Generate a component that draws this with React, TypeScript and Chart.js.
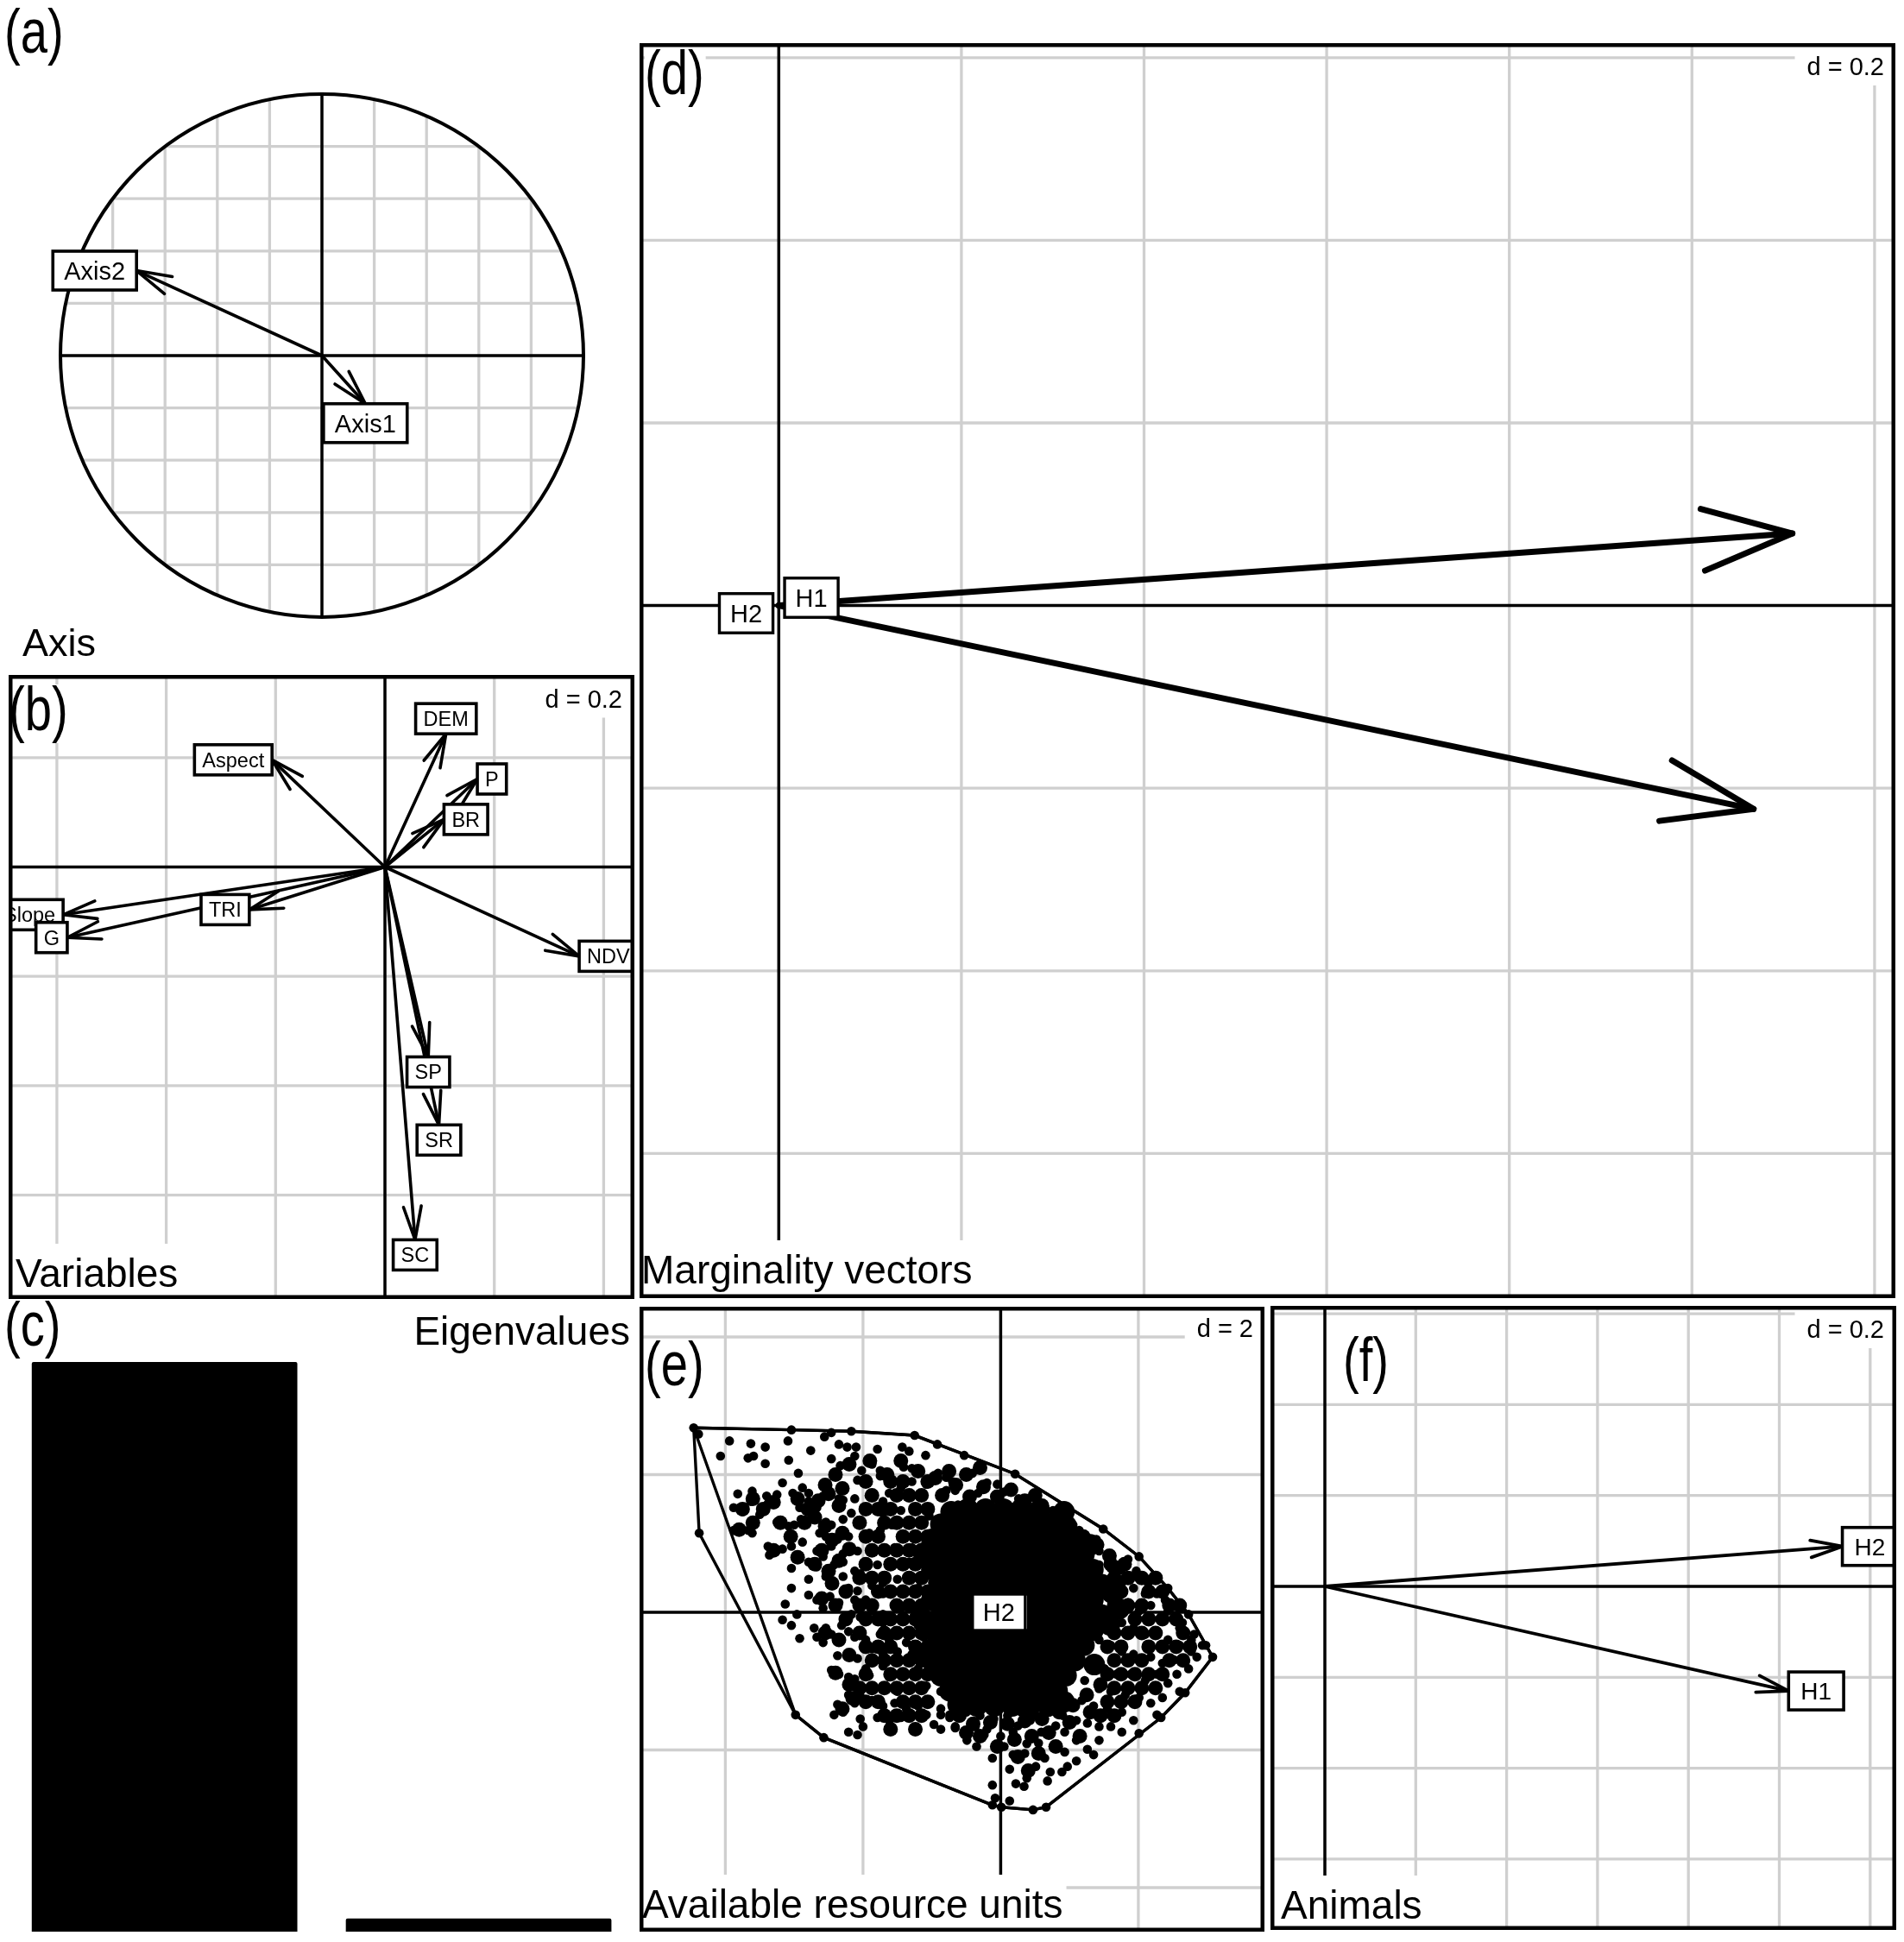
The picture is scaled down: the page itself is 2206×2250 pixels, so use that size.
import React, { useEffect, useRef } from "react";
import { Chart, registerables } from "chart.js";

Chart.register(...registerables);

const FONT = '"Liberation Sans", Arial, Helvetica, sans-serif';
const GRID_COLOR = "#cfcfcf";

/* ======================= DATA ======================= */
// (a) projection of the analysis axes
const axisNames = ["Axis1", "Axis2"];
const axisX = [0.166, -0.709];
const axisY = [-0.184, 0.325];

// (b) variables
const varNames = ["DEM", "P", "BR", "Aspect", "NDVI", "SP", "SR", "SC", "TRI", "Slope", "G"];
const varX = [0.1116, 0.169, 0.108, -0.2065, 0.3553, 0.0793, 0.0987, 0.0551, -0.2481, -0.5886, -0.581];
const varY = [0.2436, 0.161, 0.087, 0.196, -0.1632, -0.3473, -0.4717, -0.6818, -0.078, -0.0873, -0.129];

// (c) eigenvalues
const eigenNames = ["1", "2"];
const eigenValues = [1.0, 0.023];

// (d) marginality vectors
const margNames = ["H1", "H2"];
const margX = [1.0675, 1.11];
const margY = [-0.2228, 0.079];
const margLabelX = [0.0357, -0.0357];
const margLabelY = [0.0086, -0.0084];

// (e) available resource units (isolated units)
const availPoints: number[][] = [
  [-4.46, 2.68], [-4.39, 2.59], [-3.04, 2.65], [-2.17, 2.63], [-2.56, 2.55], [-2.46, 2.61], [-1.25, 2.57], [-0.92, 2.44],
  [-3.94, 2.49], [-3.63, 2.45], [-3.42, 2.40], [-3.09, 2.49], [-4.07, 2.27], [-3.67, 2.24], [-3.59, 2.27], [-3.42, 2.16],
  [-3.08, 2.21], [-2.76, 2.35], [-2.35, 2.44], [-2.23, 2.40], [-2.10, 2.40], [-1.79, 2.37], [-1.43, 2.40], [-1.33, 2.34], [-1.09, 2.28],
  [-2.46, 2.23], [-2.33, 2.13], [-2.12, 2.27], [-2.08, 1.92], [-1.75, 2.06], [-1.75, 1.98], [-1.41, 2.11], [-1.29, 2.09],
  [-2.94, 2.02], [-3.17, 1.88], [-0.91, 2.02], [-0.79, 1.96], [-2.02, 2.06], [-1.87, 2.15],
  [-3.82, 1.72], [-3.61, 1.76], [-3.40, 1.69], [-3.25, 1.71], [-3.02, 1.73], [-2.88, 1.81], [-2.79, 1.73], [-2.58, 1.69],
  [-2.35, 1.65], [-2.29, 1.63], [-3.88, 1.52], [-3.75, 1.46], [-3.50, 1.42], [-3.63, 1.61], [-3.38, 1.58], [-2.92, 1.52],
  [-2.79, 1.61], [-2.67, 1.52], [-2.12, 1.65], [-1.91, 1.69], [-1.96, 1.52], [-1.71, 1.61], [-1.62, 1.73], [-1.45, 1.81],
  [-1.29, 1.90], [-1.08, 1.86], [-0.79, 1.77], [-0.70, 1.90],
  [-3.25, 1.31], [-3.08, 1.25], [-3.00, 1.27], [-2.90, 1.35], [-2.71, 1.40], [-2.54, 1.31], [-2.46, 1.27], [-2.29, 1.35],
  [-2.17, 1.44], [-2.04, 1.31], [-1.71, 1.44], [-1.45, 1.48], [-3.88, 1.19], [-3.67, 1.19], [-3.61, 1.15], [-2.88, 1.02],
  [-2.63, 1.15], [-2.54, 1.10], [-2.37, 1.06], [-2.21, 1.10], [-1.91, 1.15], [-1.75, 1.19], [-1.58, 1.27], [-1.29, 1.31],
  [-1.04, 1.40], [-0.79, 1.48],
  [-3.38, 0.96], [-3.36, 0.83], [-3.17, 0.92], [-3.04, 0.96], [-2.67, 0.89], [-2.58, 0.81], [-2.46, 0.96], [-2.29, 0.85],
  [-2.08, 0.89], [-1.87, 0.94], [-1.71, 0.89], [-1.54, 0.94], [-1.29, 0.94], [-3.04, 0.64], [-2.79, 0.73], [-2.67, 0.66],
  [-2.42, 0.69], [-2.29, 0.73], [-2.12, 0.60], [-1.79, 0.69], [-1.62, 0.69], [-1.33, 0.73], [-1.08, 0.81], [-0.87, 0.89], [-0.70, 0.94],
  [-2.79, 0.48], [-3.04, 0.35], [-2.54, 0.52], [-2.46, 0.43], [-2.29, 0.52], [-2.04, 0.56], [-2.21, 0.35], [-2.08, 0.31],
  [-1.87, 0.39], [-1.71, 0.43], [-1.50, 0.48], [-1.29, 0.52], [-2.79, 0.25], [-2.67, 0.18], [-2.48, 0.23], [-2.35, 0.14],
  [-2.12, 0.18], [-1.96, 0.18], [-1.71, 0.27], [-1.45, 0.31], [-1.20, 0.35], [-0.99, 0.43], [-0.79, 0.48], [-3.13, 0.12], [-2.58, 0.06],
  [-2.17, -0.03], [-2.04, -0.07], [-1.87, 0.02], [-1.71, -0.03], [-1.45, 0.06], [-1.25, 0.02], [-1.04, 0.10], [-3.17, -0.11],
  [-2.96, -0.03], [-3.04, -0.19], [-2.71, -0.23], [-2.54, -0.23], [-2.31, -0.19], [-2.21, -0.28], [-1.71, -0.15], [-1.45, -0.11],
  [-1.20, -0.19], [-0.95, -0.15], [-0.70, -0.07],
  [-2.92, -0.38], [-2.67, -0.36], [-2.58, -0.44], [-2.46, -0.32], [-2.12, -0.36], [-1.96, -0.40], [-1.75, -0.32], [-1.62, -0.40],
  [-1.37, -0.44], [-1.12, -0.36], [-0.87, -0.32], [-2.37, -0.63], [-2.08, -0.67], [-1.87, -0.53], [-1.71, -0.61], [-1.50, -0.57],
  [-1.29, -0.61], [-0.99, -0.57], [-0.74, -0.48],
  [-2.46, -0.84], [-2.35, -0.90], [-2.21, -0.94], [-2.12, -0.97], [-1.96, -0.82], [-1.91, -0.92], [-1.71, -0.78], [-1.62, -0.94],
  [-1.41, -0.90], [-1.20, -0.82], [-0.95, -0.78], [-0.79, -0.90], [-1.87, -1.11], [-1.71, -1.07], [-1.50, -1.15], [-1.29, -1.11],
  [-1.08, -1.07], [-0.87, -1.15], [-0.70, -1.03],
  [-2.21, -1.20], [-2.04, -1.22], [-2.12, -1.32], [-1.87, -1.28], [-1.71, -1.36], [-1.54, -1.32], [-1.37, -1.40], [-1.20, -1.36],
  [-1.04, -1.32], [-0.87, -1.40], [-2.37, -1.34], [-2.42, -1.49], [-2.29, -1.45], [-2.04, -1.55], [-1.79, -1.53], [-1.62, -1.57],
  [-1.45, -1.53], [-1.29, -1.51], [-1.08, -1.49], [-0.87, -1.49], [-0.74, -1.53],
  [-2.21, -1.74], [-2.08, -1.78], [-2.00, -1.66], [-0.97, -1.63], [-0.87, -1.70], [-0.66, -1.66], [-2.98, -1.49], [-2.57, -1.82],
  [-0.53, 2.28], [0.21, 2.01], [1.49, 1.21], [2.01, 0.81], [2.43, 0.35], [2.73, -0.03], [2.98, -0.48], [3.08, -0.65],
  [2.68, -1.17], [2.33, -1.53], [2.01, -1.76], [0.47, -2.87], [0.01, -2.83], [-0.12, -2.80], [0.66, -2.83],
  [-0.41, 2.02], [-0.20, 1.88], [-0.33, 1.73], [-0.05, 1.86], [0.05, 1.75], [0.26, 1.65], [-0.66, 1.77], [-0.62, 1.56],
  [0.51, 1.48], [0.64, 1.40], [1.05, 1.27], [1.14, 1.19], [1.39, 1.06], [1.60, 0.64], [1.85, 0.77], [1.97, 0.60], [2.14, 0.43],
  [2.27, 0.27], [2.39, 0.18], [2.52, -0.07], [2.64, -0.15], [2.81, -0.32], [2.93, -0.48], [2.85, -0.65], [2.73, -0.82],
  [2.56, -0.90], [2.43, -1.03], [2.60, -1.15], [2.35, -1.24], [2.18, -1.32], [2.27, -1.49], [1.93, -1.57], [1.76, -1.74],
  [1.60, -1.66], [1.43, -1.86], [1.26, -1.99], [1.35, -2.07], [1.10, -2.16], [0.97, -2.24], [0.89, -2.32], [0.72, -2.32],
  [0.68, -2.45], [0.38, -2.41], [0.34, -2.53], [0.22, -2.49], [0.13, -2.28], [0.18, -2.07], [0.38, -1.91], [0.18, -1.74],
  [-0.12, -2.12], [-0.12, -2.51], [-0.08, -2.70], [0.13, -2.74], [-0.49, -1.86], [-0.24, -1.78], [-0.37, -1.66], [-0.66, -1.68], [-0.74, -1.49],
  [1.35, 0.52], [1.51, 0.35], [1.68, 0.27], [1.85, 0.14], [2.01, 0.02], [2.18, -0.07], [2.35, -0.07], [1.60, -0.07],
  [1.76, -0.15], [1.93, -0.23], [2.10, -0.32], [2.27, -0.32], [2.43, -0.40], [2.60, -0.48], [1.43, -0.40], [1.60, -0.48],
  [1.76, -0.57], [1.93, -0.61], [2.18, -0.65], [2.35, -0.74], [2.52, -0.69], [1.35, -0.74], [1.51, -0.82], [1.68, -0.90],
  [1.89, -0.90], [2.10, -0.99], [2.27, -0.90], [1.22, -0.99], [1.43, -1.11], [1.60, -1.15], [1.81, -1.20], [2.01, -1.24],
  [1.18, -1.28], [1.35, -1.36], [1.55, -1.40], [1.76, -1.45], [1.10, -1.57], [1.26, -1.61], [1.43, -1.66], [0.93, -1.74],
  [1.10, -1.86], [0.76, -1.95], [0.93, -2.03], [0.64, -2.12], [0.51, -2.24], [0.59, -1.74], [0.43, -1.57],
  [0.76, 1.48], [0.93, 1.35], [0.84, 1.15], [1.05, 1.06], [1.22, 0.98], [1.43, 0.89], [1.60, 0.85], [1.76, 0.69],
  [1.26, 0.77], [1.43, 0.69], [1.18, 0.52], [1.76, 0.43], [1.93, 0.35], [2.10, 0.27], [2.18, 0.10], [2.43, 0.02],
  [2.60, -0.23], [2.77, -0.40], [2.77, -0.57],
  [-0.50, -1.45], [-0.30, -1.50], [-0.10, -1.55], [0.10, -1.50], [0.30, -1.45], [0.50, -1.50], [0.70, -1.45], [0.90, -1.50],
  [-0.20, -1.70], [0.00, -1.80], [0.25, -1.65], [0.55, -1.90], [0.80, -1.65], [0.35, -2.05], [0.05, -1.95], [-0.35, -1.95],
];
// clumps of touching units
const availClumps: number[][] = [
  // dense band left of the core
  [-1.06, 1.90], [-1.42, 1.90], [-1.60, 1.90], [-1.96, 1.90],
  [-1.15, 1.70], [-1.33, 1.70], [-1.51, 1.70], [-1.87, 1.70],
  [-1.06, 1.50], [-1.24, 1.50], [-1.60, 1.50], [-1.78, 1.50], [-1.96, 1.50],
  [-1.15, 1.30], [-1.33, 1.30], [-1.51, 1.30], [-1.69, 1.30], [-2.05, 1.30],
  [-1.06, 1.10], [-1.24, 1.10], [-1.42, 1.10], [-1.78, 1.10], [-1.96, 1.10],
  [-1.15, 0.90], [-1.33, 0.90], [-1.51, 0.90], [-1.69, 0.90], [-1.87, 0.90],
  [-1.06, 0.70], [-1.24, 0.70], [-1.42, 0.70], [-1.60, 0.70], [-1.96, 0.70],
  [-1.15, 0.50], [-1.33, 0.50], [-1.69, 0.50], [-1.87, 0.50], [-2.05, 0.50],
  [-1.06, 0.30], [-1.24, 0.30], [-1.42, 0.30], [-1.60, 0.30], [-1.78, 0.30],
  [-1.15, 0.10], [-1.33, 0.10], [-1.51, 0.10], [-1.87, 0.10], [-2.05, 0.10],
  [-1.06, -0.10], [-1.24, -0.10], [-1.42, -0.10], [-1.60, -0.10], [-1.78, -0.10], [-1.96, -0.10],
  [-1.15, -0.30], [-1.33, -0.30], [-1.51, -0.30], [-1.69, -0.30], [-2.05, -0.30],
  [-1.06, -0.50], [-1.24, -0.50], [-1.60, -0.50], [-1.78, -0.50], [-1.96, -0.50],
  [-1.15, -0.70], [-1.33, -0.70], [-1.51, -0.70], [-1.69, -0.70], [-1.87, -0.70],
  [-1.06, -0.90], [-1.24, -0.90], [-1.42, -0.90], [-1.60, -0.90], [-1.96, -0.90],
  [-1.15, -1.10], [-1.33, -1.10], [-1.51, -1.10], [-1.69, -1.10], [-1.87, -1.10], [-2.05, -1.10],
  [-1.06, -1.30], [-1.24, -1.30], [-1.42, -1.30], [-1.78, -1.30], [-1.96, -1.30],
  [-1.15, -1.50], [-1.33, -1.50], [-1.51, -1.50], [-1.69, -1.50],
  [-1.24, -1.70], [-1.60, -1.70],
  // upper band
  [-0.85, 1.70], [-0.65, 1.85], [-0.45, 1.68], [-0.25, 1.82], [-0.05, 1.68], [0.15, 1.78], [0.35, 1.62], [-0.95, 1.95],
  [-0.75, 2.05], [-0.50, 2.00], [-0.30, 2.10], [-1.20, 2.05], [-1.45, 2.20], [-1.65, 2.00], [-1.90, 2.20], [-2.20, 2.15],
  [-2.40, 2.00], [-2.30, 1.80], [-2.55, 1.85], [0.60, 1.55], [0.80, 1.40], [1.00, 1.25], [1.20, 1.10], [1.40, 0.98],
  [1.58, 0.82], [1.72, 0.65], [0.50, 1.70],
  // upper-left clusters
  [-3.75, 1.50], [-3.60, 1.65], [-3.45, 1.50], [-3.30, 1.60], [-2.95, 1.65], [-2.80, 1.50], [-2.65, 1.62], [-2.50, 1.72],
  [-2.35, 1.55], [-2.85, 1.30], [-2.70, 1.38], [-2.55, 1.25], [-2.30, 1.15], [-2.45, 1.05], [-2.60, 0.90], [-2.35, 0.75],
  [-2.20, 0.92], [-2.70, 0.70], [-2.50, 0.60], [-2.45, 0.42], [-2.25, 0.30], [-2.60, 0.20], [-2.40, 0.10], [-2.25, -0.10],
  [-2.55, -0.30], [-2.35, -0.40], [-2.20, -0.62], [-2.40, -0.88], [-2.20, -1.05], [-2.30, -1.40], [-2.15, -1.25],
  [-3.80, 1.20], [-3.60, 1.30], [-3.20, 1.30], [-3.05, 1.10], [-3.30, 0.90], [-2.95, 0.80],
  // right of the core
  [1.60, 0.70], [1.80, 0.70],
  [1.65, 0.50], [1.85, 0.50], [2.05, 0.50], [2.25, 0.50],
  [1.55, 0.30], [1.75, 0.30], [2.15, 0.30], [2.35, 0.30],
  [1.65, 0.10], [1.85, 0.10], [2.05, 0.10], [2.45, 0.10], [2.60, 0.10],
  [1.55, -0.10], [1.95, -0.10], [2.15, -0.10], [2.35, -0.10], [2.55, -0.10],
  [1.65, -0.30], [1.85, -0.30], [2.05, -0.30], [2.25, -0.30], [2.65, -0.30],
  [1.55, -0.50], [1.75, -0.50], [2.15, -0.50], [2.35, -0.50], [2.55, -0.50], [2.75, -0.50],
  [1.65, -0.70], [1.85, -0.70], [2.05, -0.70], [2.45, -0.70], [2.65, -0.70],
  [1.55, -0.90], [1.75, -0.90], [1.95, -0.90], [2.15, -0.90], [2.35, -0.90],
  [1.65, -1.10], [1.85, -1.10], [2.05, -1.10], [2.25, -1.10],
  [1.55, -1.30], [1.75, -1.30], [1.95, -1.30],
  [1.45, -1.50], [1.65, -1.50],
  // below the core
  [-0.60, -1.50], [-0.40, -1.62], [-0.15, -1.60], [0.10, -1.62], [0.35, -1.58], [0.60, -1.55], [0.85, -1.45], [1.05, -1.35],
  [1.25, -1.20], [1.45, -1.05], [0.20, -1.85], [0.45, -1.80], [-0.05, -1.95], [0.70, -1.75], [-0.30, -1.80], [1.00, -1.60],
  [1.30, -1.45], [0.25, -2.10], [0.55, -2.05], [0.80, -1.95], [0.40, -2.30], [-0.50, -1.75], [1.15, -1.80],
];
// saturated core of the cloud (heavily overlapping units)
const availDense: number[][] = [
  [-0.48, 1.50], [-0.22, 1.50], [0.04, 1.50], [0.30, 1.50], [0.56, 1.48],
  [-0.87, 1.28], [-0.61, 1.28], [-0.35, 1.28], [-0.09, 1.28], [0.17, 1.28], [0.43, 1.28], [0.69, 1.28], [0.95, 1.26],
  [-1.00, 1.06], [-0.74, 1.06], [-0.48, 1.06], [-0.22, 1.06], [0.04, 1.06], [0.30, 1.06], [0.56, 1.06], [0.82, 1.06], [1.08, 1.04],
  [-0.87, 0.84], [-0.61, 0.84], [-0.35, 0.84], [-0.09, 0.84], [0.17, 0.84], [0.43, 0.84], [0.69, 0.84], [0.95, 0.84], [1.21, 0.84],
  [-1.00, 0.62], [-0.74, 0.62], [-0.48, 0.62], [-0.22, 0.62], [0.04, 0.62], [0.30, 0.62], [0.56, 0.62], [0.82, 0.62], [1.08, 0.62], [1.34, 0.62],
  [-0.87, 0.40], [-0.61, 0.40], [-0.35, 0.40], [-0.09, 0.40], [0.17, 0.40], [0.43, 0.40], [0.69, 0.40], [0.95, 0.40], [1.21, 0.40], [1.47, 0.40],
  [-1.00, 0.18], [-0.74, 0.18], [-0.48, 0.18], [-0.22, 0.18], [0.04, 0.18], [0.30, 0.18], [0.56, 0.18], [0.82, 0.18], [1.08, 0.18], [1.34, 0.18],
  [-0.87, -0.04], [-0.61, -0.04], [-0.35, -0.04], [-0.09, -0.04], [0.17, -0.04], [0.43, -0.04], [0.69, -0.04], [0.95, -0.04], [1.21, -0.04], [1.47, -0.04],
  [-1.00, -0.26], [-0.74, -0.26], [-0.48, -0.26], [-0.22, -0.26], [0.04, -0.26], [0.30, -0.26], [0.56, -0.26], [0.82, -0.26], [1.08, -0.26], [1.34, -0.26],
  [-0.87, -0.48], [-0.61, -0.48], [-0.35, -0.48], [-0.09, -0.48], [0.17, -0.48], [0.43, -0.48], [0.69, -0.48], [0.95, -0.48], [1.21, -0.48],
  [-1.00, -0.70], [-0.74, -0.70], [-0.48, -0.70], [-0.22, -0.70], [0.04, -0.70], [0.30, -0.70], [0.56, -0.70], [0.82, -0.70], [1.08, -0.70],
  [-0.87, -0.92], [-0.61, -0.92], [-0.35, -0.92], [-0.09, -0.92], [0.17, -0.92], [0.43, -0.92], [0.69, -0.92], [0.95, -0.92],
  [-0.74, -1.14], [-0.48, -1.14], [-0.22, -1.14], [0.04, -1.14], [0.30, -1.14], [0.56, -1.14], [0.82, -1.14],
  [-0.35, -1.36], [-0.09, -1.36], [0.17, -1.36], [0.43, -1.36], [0.69, -1.36],
  [1.62, 0.28], [1.58, -0.18], [-1.12, 0.86], [-1.16, -0.06], [0.92, 1.46], [-0.72, 1.46], [0.92, -1.30], [-0.62, -1.34],
  [1.36, -0.76], [1.30, 0.98], [1.72, 0.05], [-1.10, -0.62],
];
// unit belonging to one group only (gives the second convex hull)
const availOutlier: number[][] = [[-4.38, 1.15]];
const classNames = ["H1", "H2"];
const classX = [0.02, -0.026];
const classY = [0.0, 0.0];

// (f) animals
const animalNames = ["H1", "H2"];
const animalX = [1.0205, 1.1388];
const animalY = [-0.23, 0.0879];

// grid spacing ("d = ...")
const gridStepA = 0.2;
const gridStepB = 0.2;
const gridStepD = 0.2;
const gridStepE = 2;
const gridStepF = 0.2;

/* ======================= LAYOUT ======================= */
type Rect = { x: number; y: number; w: number; h: number };
type Geo = { rect: Rect; ox: number; oy: number; k: number };

const GEO_A: Geo = { rect: { x: 0, y: 0, w: 740, h: 778 }, ox: 373, oy: 412, k: 303 };
const GEO_B: Geo = { rect: { x: 10, y: 782, w: 725, h: 723 }, ox: 446, oy: 1004.5, k: 633.5 };
const GEO_D: Geo = { rect: { x: 741, y: 50, w: 1455, h: 1454 }, ox: 902.3, oy: 701.6, k: 1058 };
const GEO_E: Geo = { rect: { x: 741, y: 1514, w: 724, h: 724 }, ox: 1159.4, oy: 1868, k: 79.75 };
const GEO_F: Geo = { rect: { x: 1472, y: 1513, w: 725, h: 723 }, ox: 1535, oy: 1838, k: 526.5 };
const RECT_C: Rect = { x: 0, y: 1500, w: 740, h: 750 };

const FRAME_W = 4.5;
const AXIS_W = 3.5;
const GRID_W = 3.3;

function scalesFor(g: Geo) {
  const { rect, ox, oy, k } = g;
  return {
    x: { type: "linear", display: false, bounds: "data", min: (rect.x - ox) / k, max: (rect.x + rect.w - ox) / k },
    y: { type: "linear", display: false, bounds: "data", min: (oy - (rect.y + rect.h)) / k, max: (oy - rect.y) / k },
  };
}

function baseOptions(g: Geo) {
  return {
    responsive: false,
    animation: false,
    devicePixelRatio: 1,
    events: [],
    layout: { padding: 0, autoPadding: false },
    plugins: { legend: { display: false }, tooltip: { enabled: false }, title: { display: false } },
    scales: scalesFor(g),
  };
}

/* ======================= DRAW HELPERS ======================= */
function drawGridLines(chart: any, step: number) {
  const { ctx, chartArea: a, scales } = chart;
  const x = scales.x, y = scales.y;
  ctx.save();
  ctx.strokeStyle = GRID_COLOR;
  ctx.lineWidth = GRID_W;
  ctx.beginPath();
  for (let i = Math.ceil(x.min / step - 1e-9); i <= Math.floor(x.max / step + 1e-9); i++) {
    if (i === 0) continue;
    const p = x.getPixelForValue(i * step);
    ctx.moveTo(p, a.top);
    ctx.lineTo(p, a.bottom);
  }
  for (let i = Math.ceil(y.min / step - 1e-9); i <= Math.floor(y.max / step + 1e-9); i++) {
    if (i === 0) continue;
    const p = y.getPixelForValue(i * step);
    ctx.moveTo(a.left, p);
    ctx.lineTo(a.right, p);
  }
  ctx.stroke();
  ctx.restore();
}

function drawOriginAxes(chart: any, lw: number) {
  const { ctx, chartArea: a, scales } = chart;
  const X0 = scales.x.getPixelForValue(0);
  const Y0 = scales.y.getPixelForValue(0);
  ctx.save();
  ctx.strokeStyle = "#000";
  ctx.lineWidth = lw;
  ctx.beginPath();
  ctx.moveTo(a.left, Y0);
  ctx.lineTo(a.right, Y0);
  ctx.moveTo(X0, a.top);
  ctx.lineTo(X0, a.bottom);
  ctx.stroke();
  ctx.restore();
}

function drawHead(ctx: any, x0: number, y0: number, x1: number, y1: number, len: number, angDeg: number, lw: number) {
  const ang = Math.atan2(y0 - y1, x0 - x1);
  const t = (angDeg * Math.PI) / 180;
  ctx.save();
  ctx.strokeStyle = "#000";
  ctx.lineWidth = lw;
  ctx.lineCap = "round";
  ctx.lineJoin = "round";
  ctx.beginPath();
  ctx.moveTo(x1 + len * Math.cos(ang + t), y1 + len * Math.sin(ang + t));
  ctx.lineTo(x1, y1);
  ctx.lineTo(x1 + len * Math.cos(ang - t), y1 + len * Math.sin(ang - t));
  ctx.stroke();
  ctx.restore();
}

type BoxStyle = { font: number; padX: number; boxH: number; lw: number };

function boxWidth(ctx: any, text: string, s: BoxStyle) {
  ctx.save();
  ctx.font = `${s.font}px ${FONT}`;
  const w = ctx.measureText(text).width + 2 * s.padX;
  ctx.restore();
  return w;
}

function drawBox(ctx: any, text: string, cx: number, cy: number, s: BoxStyle) {
  ctx.save();
  ctx.font = `${s.font}px ${FONT}`;
  const w = ctx.measureText(text).width + 2 * s.padX;
  ctx.fillStyle = "#fff";
  ctx.fillRect(cx - w / 2, cy - s.boxH / 2, w, s.boxH);
  ctx.strokeStyle = "#000";
  ctx.lineWidth = s.lw;
  ctx.strokeRect(cx - w / 2, cy - s.boxH / 2, w, s.boxH);
  ctx.fillStyle = "#000";
  ctx.textAlign = "center";
  ctx.textBaseline = "alphabetic";
  ctx.fillText(text, cx, cy + 0.358 * s.font);
  ctx.restore();
}

function drawArrows(chart: any, names: string[], xs: number[], ys: number[], head: number, ang: number, lw: number, s: BoxStyle) {
  const { ctx, scales } = chart;
  const X0 = scales.x.getPixelForValue(0);
  const Y0 = scales.y.getPixelForValue(0);
  names.forEach((_, i) => {
    const tx = scales.x.getPixelForValue(xs[i]);
    const ty = scales.y.getPixelForValue(ys[i]);
    drawHead(ctx, X0, Y0, tx, ty, head, ang, lw);
  });
  names.forEach((n, i) => {
    const tx = scales.x.getPixelForValue(xs[i]);
    const ty = scales.y.getPixelForValue(ys[i]);
    const w = boxWidth(ctx, n, s);
    let cx = tx, cy = ty;
    if (Math.abs(xs[i]) > Math.abs(ys[i])) cx = tx + (Math.sign(xs[i]) * w) / 2;
    else cy = ty - (Math.sign(ys[i]) * s.boxH) / 2;
    drawBox(ctx, n, cx, cy, s);
  });
}

function drawDLabel(chart: any, rect: Rect, text: string, pageRight: number, pageBase: number) {
  const { ctx, chartArea: a } = chart;
  ctx.save();
  ctx.font = `29px ${FONT}`;
  const tw = ctx.measureText(text).width;
  const r = pageRight - rect.x;
  const b = pageBase - rect.y;
  ctx.fillStyle = "#fff";
  ctx.fillRect(r - tw - 14, a.top, a.right - (r - tw - 14), b + 12 - a.top);
  ctx.fillStyle = "#000";
  ctx.textAlign = "right";
  ctx.textBaseline = "alphabetic";
  ctx.fillText(text, r, b);
  ctx.restore();
}

function drawSubLabel(chart: any, rect: Rect, text: string, pageX: number, pageBase: number) {
  const { ctx, chartArea: a } = chart;
  ctx.save();
  ctx.font = `46px ${FONT}`;
  const tw = ctx.measureText(text).width;
  const x = pageX - rect.x;
  const b = pageBase - rect.y;
  ctx.fillStyle = "#fff";
  ctx.fillRect(a.left, b - 50, x + tw + 4 - a.left, a.bottom - (b - 50));
  ctx.fillStyle = "#000";
  ctx.textAlign = "left";
  ctx.textBaseline = "alphabetic";
  ctx.fillText(text, x, b);
  ctx.restore();
}

function drawLetter(ctx: any, rect: Rect, text: string, pageX: number, pageBase: number) {
  const x = pageX - rect.x;
  const b = pageBase - rect.y;
  const sx = 0.78;
  ctx.save();
  ctx.font = `72px ${FONT}`;
  const tw = ctx.measureText(text).width * sx;
  ctx.fillStyle = "#fff";
  ctx.fillRect(x, b - 53, tw + 2, 68);
  ctx.translate(x, b);
  ctx.scale(sx, 1);
  ctx.fillStyle = "#000";
  ctx.textAlign = "left";
  ctx.textBaseline = "alphabetic";
  ctx.fillText(text, 0, 0);
  ctx.restore();
}

function drawFrame(chart: any, lw: number) {
  const { ctx, chartArea: a } = chart;
  ctx.save();
  ctx.strokeStyle = "#000";
  ctx.lineWidth = lw;
  ctx.strokeRect(a.left + lw / 2, a.top + lw / 2, a.right - a.left - lw, a.bottom - a.top - lw);
  ctx.restore();
}

function convexHull(pts: number[][]) {
  const p = pts.slice().sort((a, b) => a[0] - b[0] || a[1] - b[1]);
  const cross = (o: number[], a: number[], b: number[]) => (a[0] - o[0]) * (b[1] - o[1]) - (a[1] - o[1]) * (b[0] - o[0]);
  const lower: number[][] = [];
  for (const q of p) {
    while (lower.length >= 2 && cross(lower[lower.length - 2], lower[lower.length - 1], q) <= 0) lower.pop();
    lower.push(q);
  }
  const upper: number[][] = [];
  for (let i = p.length - 1; i >= 0; i--) {
    const q = p[i];
    while (upper.length >= 2 && cross(upper[upper.length - 2], upper[upper.length - 1], q) <= 0) upper.pop();
    upper.push(q);
  }
  upper.pop();
  lower.pop();
  const h = lower.concat(upper);
  h.push(h[0]);
  return h.map(([x, y]) => ({ x, y }));
}

function arrowDatasets(names: string[], xs: number[], ys: number[], lw: number) {
  return names.map((n, i) => ({
    label: n,
    data: [{ x: 0, y: 0 }, { x: xs[i], y: ys[i] }],
    showLine: true,
    borderColor: "#000",
    borderWidth: lw,
    borderCapStyle: "round",
    pointRadius: 0,
    fill: false,
  }));
}

/* ======================= PANELS ======================= */
const BOX_A: BoxStyle = { font: 29, padX: 13, boxH: 45, lw: 3.6 };
const BOX_B: BoxStyle = { font: 23.5, padX: 9, boxH: 35, lw: 3.6 };
const BOX_D: BoxStyle = { font: 29, padX: 12.5, boxH: 45.5, lw: 3.4 };
const BOX_E: BoxStyle = { font: 29, padX: 12, boxH: 42, lw: 3.4 };
const BOX_F: BoxStyle = { font: 28, padX: 14, boxH: 44, lw: 3.6 };

function makeA() {
  const g = GEO_A;
  return {
    type: "scatter",
    data: { datasets: arrowDatasets(axisNames, axisX, axisY, 3.6) },
    options: baseOptions(g),
    plugins: [
      {
        id: "panelA",
        beforeDatasetsDraw(chart: any) {
          const { ctx, scales } = chart;
          const sx = scales.x, sy = scales.y;
          const X0 = sx.getPixelForValue(0), Y0 = sy.getPixelForValue(0);
          const R = sx.getPixelForValue(1) - X0;
          ctx.save();
          ctx.strokeStyle = GRID_COLOR;
          ctx.lineWidth = GRID_W;
          ctx.beginPath();
          const n = Math.floor(1 / gridStepA - 1e-9);
          for (let i = -n; i <= n; i++) {
            if (i === 0) continue;
            const c = i * gridStepA;
            const h = Math.sqrt(1 - c * c);
            ctx.moveTo(sx.getPixelForValue(c), sy.getPixelForValue(h));
            ctx.lineTo(sx.getPixelForValue(c), sy.getPixelForValue(-h));
            ctx.moveTo(sx.getPixelForValue(-h), sy.getPixelForValue(c));
            ctx.lineTo(sx.getPixelForValue(h), sy.getPixelForValue(c));
          }
          ctx.stroke();
          ctx.strokeStyle = "#000";
          ctx.lineWidth = AXIS_W;
          ctx.beginPath();
          ctx.moveTo(sx.getPixelForValue(-1), Y0);
          ctx.lineTo(sx.getPixelForValue(1), Y0);
          ctx.moveTo(X0, sy.getPixelForValue(1));
          ctx.lineTo(X0, sy.getPixelForValue(-1));
          ctx.stroke();
          ctx.lineWidth = 4;
          ctx.beginPath();
          ctx.arc(X0, Y0, R, 0, Math.PI * 2);
          ctx.stroke();
          ctx.restore();
        },
        afterDatasetsDraw(chart: any) {
          const { ctx } = chart;
          drawArrows(chart, axisNames, axisX, axisY, 42, 15, 3.6, BOX_A);
          ctx.save();
          ctx.font = `45px ${FONT}`;
          ctx.fillStyle = "#000";
          ctx.fillText("Axis", 26 - g.rect.x, 760 - g.rect.y);
          ctx.restore();
          drawLetter(ctx, g.rect, "(a)", 5, 61);
        },
      },
    ],
  };
}

function makeB() {
  const g = GEO_B;
  return {
    type: "scatter",
    data: { datasets: arrowDatasets(varNames, varX, varY, 3.6) },
    options: baseOptions(g),
    plugins: [
      {
        id: "panelB",
        beforeDatasetsDraw(chart: any) {
          drawGridLines(chart, gridStepB);
          drawDLabel(chart, g.rect, `d = ${gridStepB}`, 721, 819.5);
          drawOriginAxes(chart, AXIS_W);
        },
        afterDatasetsDraw(chart: any) {
          drawArrows(chart, varNames, varX, varY, 40, 15, 3.6, BOX_B);
          drawSubLabel(chart, g.rect, "Variables", 18, 1491);
          drawLetter(chart.ctx, g.rect, "(b)", 10, 846);
          drawFrame(chart, FRAME_W);
        },
      },
    ],
  };
}

function makeC() {
  const r = RECT_C;
  return {
    type: "bar",
    data: {
      labels: eigenNames,
      datasets: [
        {
          label: "Eigenvalues",
          data: eigenValues,
          backgroundColor: "#000",
          borderWidth: 0,
          borderRadius: 2,
          barPercentage: 0.8456,
          categoryPercentage: 1,
        },
      ],
    },
    options: {
      responsive: false,
      animation: false,
      devicePixelRatio: 1,
      events: [],
      layout: { padding: { left: 8.7, right: 3.5, top: 78, bottom: 12 }, autoPadding: false },
      plugins: { legend: { display: false }, tooltip: { enabled: false } },
      scales: {
        x: { display: false },
        y: { display: false, min: 0, max: eigenValues[0], bounds: "data" },
      },
    },
    plugins: [
      {
        id: "panelC",
        afterDraw(chart: any) {
          const { ctx } = chart;
          ctx.save();
          ctx.font = `46px ${FONT}`;
          ctx.fillStyle = "#000";
          ctx.textAlign = "right";
          ctx.fillText("Eigenvalues", 730 - r.x, 1558 - r.y);
          ctx.restore();
          drawLetter(ctx, r, "(c)", 5, 1559);
        },
      },
    ],
  };
}

function makeD() {
  const g = GEO_D;
  return {
    type: "scatter",
    data: { datasets: arrowDatasets(margNames, margX, margY, 7) },
    options: baseOptions(g),
    plugins: [
      {
        id: "panelD",
        beforeDatasetsDraw(chart: any) {
          drawGridLines(chart, gridStepD);
          drawDLabel(chart, g.rect, `d = ${gridStepD}`, 2183, 87);
          drawOriginAxes(chart, AXIS_W);
        },
        afterDatasetsDraw(chart: any) {
          const { ctx, scales } = chart;
          const X0 = scales.x.getPixelForValue(0), Y0 = scales.y.getPixelForValue(0);
          margNames.forEach((_, i) => {
            drawHead(ctx, X0, Y0, scales.x.getPixelForValue(margX[i]), scales.y.getPixelForValue(margY[i]), 110, 19, 7);
          });
          margNames.forEach((n, i) => {
            drawBox(ctx, n, scales.x.getPixelForValue(margLabelX[i]), scales.y.getPixelForValue(margLabelY[i]), BOX_D);
          });
          drawSubLabel(chart, g.rect, "Marginality vectors", 743, 1487);
          drawLetter(ctx, g.rect, "(d)", 747, 109);
          drawFrame(chart, FRAME_W);
        },
      },
    ],
  };
}

function makeE() {
  const g = GEO_E;
  const allPts = availPoints.concat(availOutlier);
  const xy = (arr: number[][]) => arr.map(([x, y]) => ({ x, y }));
  return {
    type: "scatter",
    data: {
      datasets: [
        { label: "units", data: xy(allPts), pointRadius: 5.3, pointBackgroundColor: "#000", pointBorderWidth: 0, showLine: false },
        { label: "clumps", data: xy(availClumps), pointRadius: 8.5, pointBackgroundColor: "#000", pointBorderWidth: 0, showLine: false },
        { label: "dense", data: xy(availDense), pointRadius: 12.5, pointBackgroundColor: "#000", pointBorderWidth: 0, showLine: false },
        { label: "hull H1", data: convexHull(allPts), showLine: true, borderColor: "#000", borderWidth: 3.4, pointRadius: 0, fill: false },
        { label: "hull H2", data: convexHull(availPoints), showLine: true, borderColor: "#000", borderWidth: 3.4, pointRadius: 0, fill: false },
      ],
    },
    options: baseOptions(g),
    plugins: [
      {
        id: "panelE",
        beforeDatasetsDraw(chart: any) {
          drawGridLines(chart, gridStepE);
          drawDLabel(chart, g.rect, `d = ${gridStepE}`, 1452, 1549);
          drawOriginAxes(chart, AXIS_W);
        },
        afterDatasetsDraw(chart: any) {
          const { ctx, scales } = chart;
          classNames.forEach((n, i) => {
            drawBox(ctx, n, scales.x.getPixelForValue(classX[i]), scales.y.getPixelForValue(classY[i]), BOX_E);
          });
          drawSubLabel(chart, g.rect, "Available resource units", 744, 2222);
          drawLetter(ctx, g.rect, "(e)", 747, 1605);
          drawFrame(chart, FRAME_W);
        },
      },
    ],
  };
}

function makeF() {
  const g = GEO_F;
  return {
    type: "scatter",
    data: { datasets: arrowDatasets(animalNames, animalX, animalY, 3.8) },
    options: baseOptions(g),
    plugins: [
      {
        id: "panelF",
        beforeDatasetsDraw(chart: any) {
          drawGridLines(chart, gridStepF);
          drawDLabel(chart, g.rect, `d = ${gridStepF}`, 2183, 1550);
          drawOriginAxes(chart, AXIS_W);
        },
        afterDatasetsDraw(chart: any) {
          drawArrows(chart, animalNames, animalX, animalY, 38, 15, 3.8, BOX_F);
          drawSubLabel(chart, g.rect, "Animals", 1484, 2223);
          drawLetter(chart.ctx, g.rect, "(f)", 1556, 1600);
          drawFrame(chart, FRAME_W);
        },
      },
    ],
  };
}

/* ======================= COMPONENTS ======================= */
function ChartCanvas({ rect, make }: { rect: Rect; make: () => any }) {
  const ref = useRef<HTMLCanvasElement | null>(null);
  useEffect(() => {
    if (!ref.current) return;
    const chart = new Chart(ref.current, make());
    return () => chart.destroy();
  }, [make]);
  return (
    <canvas
      ref={ref}
      width={rect.w}
      height={rect.h}
      style={{ position: "absolute", left: rect.x, top: rect.y, width: rect.w, height: rect.h }}
    />
  );
}

export default function App() {
  return (
    <div style={{ position: "absolute", left: 0, top: 0, width: 2206, height: 2250, background: "#fff", overflow: "hidden" }}>
      <ChartCanvas rect={GEO_A.rect} make={makeA} />
      <ChartCanvas rect={GEO_B.rect} make={makeB} />
      <ChartCanvas rect={RECT_C} make={makeC} />
      <ChartCanvas rect={GEO_D.rect} make={makeD} />
      <ChartCanvas rect={GEO_E.rect} make={makeE} />
      <ChartCanvas rect={GEO_F.rect} make={makeF} />
    </div>
  );
}
